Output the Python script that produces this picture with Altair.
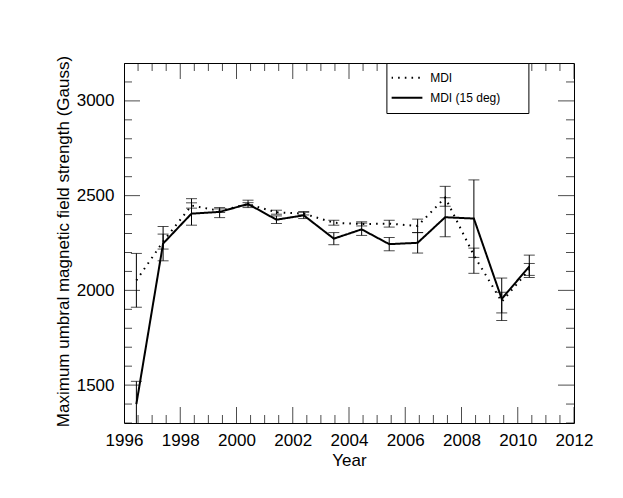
import altair as alt
import pandas as pd
import numpy as np

# ---- data ----
years = [1996.44, 1997.39, 1998.40, 1999.40, 2000.41, 2001.42, 2002.39, 2003.46,
         2004.45, 2005.43, 2006.44, 2007.42, 2008.44, 2009.43, 2010.41]

mdi = [2053, 2257, 2448, 2420, 2455, 2412, 2405, 2357, 2350, 2352, 2340, 2490, 2185, 1940, 2110]
mdi_lo = [1911, 2218, 2434, 2411, 2446, 2402, 2398, 2344, 2340, 2334, 2305, 2444, 2090, 1881, 2079]
mdi_hi = [2195, 2297, 2462, 2430, 2463, 2423, 2412, 2370, 2362, 2370, 2376, 2549, 2223, 1990, 2142]

mdi15 = [1400, 2247, 2405, 2414, 2456, 2373, 2396, 2273, 2322, 2244, 2251, 2386, 2379, 1955, 2126]
mdi15_lo = [1280, 2156, 2344, 2384, 2437, 2353, 2379, 2241, 2290, 2209, 2197, 2283, 2174, 1841, 2068]
mdi15_hi = [1520, 2337, 2484, 2437, 2476, 2393, 2416, 2305, 2355, 2279, 2305, 2489, 2583, 2065, 2186]

series_names = ["MDI", "MDI (15 deg)"]
x_labels = [1996, 1998, 2000, 2002, 2004, 2006, 2008, 2010, 2012]
y_labels = [1500, 2000, 2500, 3000]
x_domain = [1996, 2012]
y_domain = [1300, 3200]

W, H = 450, 360
FONT = "Liberation Sans"
FS = 17

df = pd.concat([
    pd.DataFrame({"year": years, "value": mdi, "lo": mdi_lo, "hi": mdi_hi, "series": series_names[0]}),
    pd.DataFrame({"year": years, "value": mdi15, "lo": mdi15_lo, "hi": mdi15_hi, "series": series_names[1]}),
], ignore_index=True)

xv = np.arange(x_domain[0], x_domain[1] + 0.01, 0.5)
xtick = pd.DataFrame({"v": xv, "major": [float(v) in [float(t) for t in x_labels] for v in xv]})
yv = np.arange(y_domain[0], y_domain[1] + 1, 100)
ytick = pd.DataFrame({"v": yv, "major": [int(v) in y_labels for v in yv]})

xs = alt.Scale(domain=x_domain, nice=False, zero=False)
ys = alt.Scale(domain=y_domain, nice=False, zero=False)

x_axis = alt.Axis(values=x_labels, format="d", ticks=False, domain=False, grid=False,
                  labelFont=FONT, labelFontSize=FS, labelColor="black", labelBaseline="alphabetic",
                  labelPadding=22.7, labelFlush=False, labelOverlap=False,
                  titleFont=FONT, titleFontSize=FS, titleFontWeight="normal", titleColor="black",
                  titleX=W / 2, titleY=42, titleBaseline="alphabetic", titleAlign="center")
y_axis = alt.Axis(values=y_labels, format="d", ticks=False, domain=False, grid=False,
                  labelFont=FONT, labelFontSize=FS, labelColor="black", labelPadding=10,
                  titleFont=FONT, titleFontSize=FS, titleFontWeight="normal", titleColor="black",
                  titleX=-56, titleY=H / 2 - 2, titleBaseline="alphabetic", titleAlign="center",
                  titleAngle=270)

X_T = "Year"
Y_T = "Maximum umbral magnetic field strength (Gauss)"

def X(f):
    return alt.X(f, scale=xs, axis=x_axis, title=X_T)

def Y(f):
    return alt.Y(f, scale=ys, axis=y_axis, title=Y_T)

# invisible title on the right widens the legend box like the reference
legend = alt.Legend(orient="none", legendX=262.4, legendY=0,
                    title="M", titleOrient="right", titleOpacity=0,
                    titleFontSize=14, titlePadding=11, titleFont=FONT,
                    strokeColor="black", fillColor="white", padding=5,
                    symbolType="M-2,0H2", symbolSize=240, symbolOffset=6.5,
                    symbolStrokeWidth=2, symbolStrokeColor="black",
                    clipHeight=19.4, rowPadding=-1,
                    labelFont=FONT, labelFontSize=12, labelColor="black", labelLimit=300,
                    labelOffset=14.3)

base = alt.Chart(df)
lines = base.mark_line(clip=True, color="black", strokeWidth=2).encode(
    x=X("year:Q"), y=Y("value:Q"),
    strokeDash=alt.StrokeDash("series:N",
                              scale=alt.Scale(domain=series_names, range=[[1.6, 5.1], [1, 0]]),
                              legend=legend),
)
bars = base.mark_rule(clip=True, color="black", strokeWidth=1).encode(
    x=X("year:Q"), y=Y("lo:Q"), y2="hi:Q")
cap_lo = base.mark_tick(clip=True, color="black", thickness=1, size=11, orient="horizontal").encode(
    x=X("year:Q"), y=Y("lo:Q"))
cap_hi = base.mark_tick(clip=True, color="black", thickness=1, size=11, orient="horizontal").encode(
    x=X("year:Q"), y=Y("hi:Q"))

tsize = alt.condition("datum.major", alt.value(32), alt.value(16))
yt = alt.Chart(ytick)
xt = alt.Chart(xtick)
t_left = yt.mark_tick(clip=True, color="black", thickness=1, orient="horizontal").encode(
    y=Y("v:Q"), x=alt.value(0), size=tsize)
t_right = yt.mark_tick(clip=True, color="black", thickness=1, orient="horizontal").encode(
    y=Y("v:Q"), x=alt.value(W), size=tsize)
t_bottom = xt.mark_tick(clip=True, color="black", thickness=1, orient="vertical").encode(
    x=X("v:Q"), y=alt.value(H), size=tsize)
t_top = xt.mark_tick(clip=True, color="black", thickness=1, orient="vertical").encode(
    x=X("v:Q"), y=alt.value(0), size=tsize)

chart = alt.layer(t_left, t_right, t_bottom, t_top, bars, cap_lo, cap_hi, lines).properties(
    width=W, height=H,
    autosize=alt.AutoSizeParams(type="none"),
    padding={"left": 116, "top": 55, "right": 41, "bottom": 66},
).configure_view(stroke="black", strokeWidth=1)

chart.save("out.html", embed_options={"renderer": "svg", "actions": False})
